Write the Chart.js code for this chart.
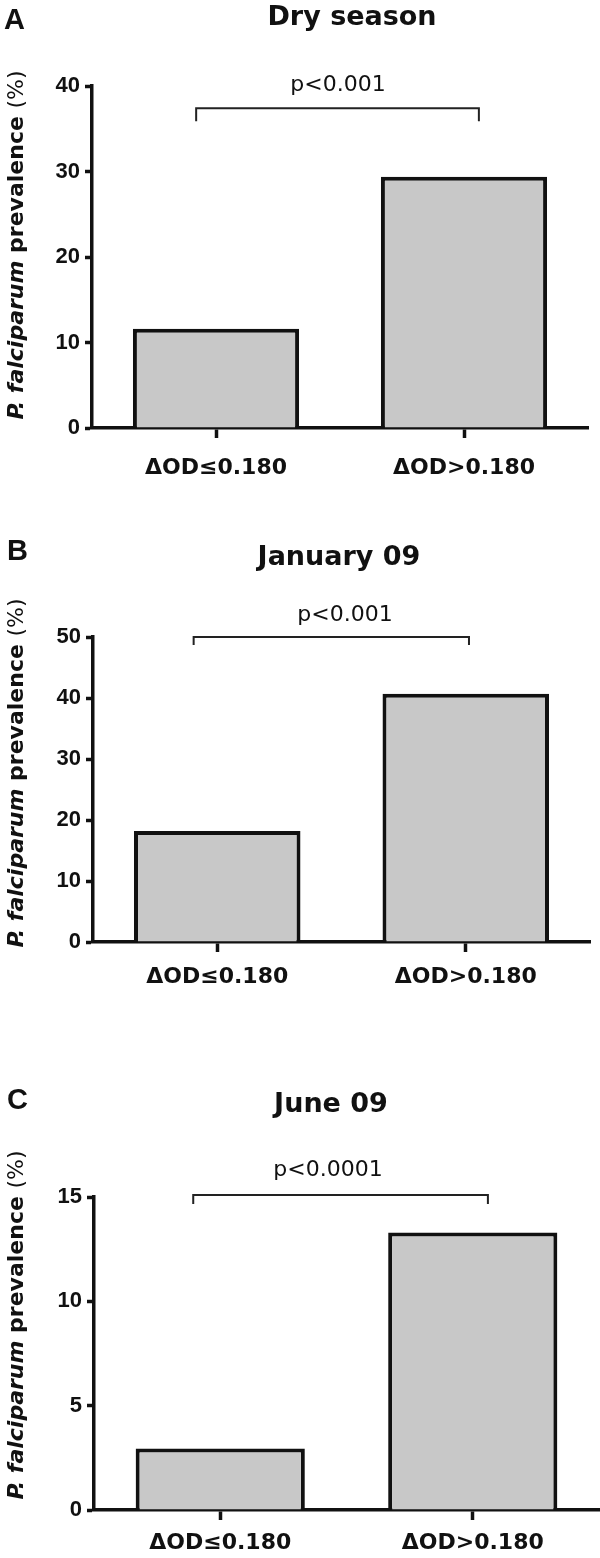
<!DOCTYPE html>
<html lang="en">
<head>
<meta charset="UTF-8">
<title>P. falciparum prevalence by ΔOD</title>
<script src="https://cdn.jsdelivr.net/npm/chart.js"></script>
<style>
    body { margin: 0; background: #fff; }
    #page { position: relative; width: 600px; height: 1558px; overflow: hidden; background: #fff; }
    .panel { position: absolute; left: 0; width: 600px; }
</style>
</head>
<body>
<div id="page">
    <div class="panel" id="wrapA" style="top:0;height:495px"><canvas id="chartA"></canvas></div>
    <div class="panel" id="wrapB" style="top:495px;height:510px"><canvas id="chartB"></canvas></div>
    <div class="panel" id="wrapC" style="top:1005px;height:553px"><canvas id="chartC"></canvas></div>
</div>

<script>
    // data
    const categories = ['ΔOD≤0.180', 'ΔOD>0.180'];
    const drySeason = [11.6, 29.4];
    const january09 = [18.2, 40.7];
    const june09 = [2.95, 13.3];

    const panelLetters = ['A', 'B', 'C'];
    const panelTitles = ['Dry season', 'January 09', 'June 09'];
    const pValues = ['p<0.001', 'p<0.001', 'p<0.0001'];
    const yMax = [40, 50, 15];
    const yStep = [10, 10, 5];
    const bracketLevel = [37.4, 50, 15.1];

    const series = [drySeason, january09, june09];

    // page layout of each panel (pixels)
    const layouts = [
        { id: 'chartA', top: 0, height: 495, left: 92, right: 588, areaTop: 86, areaBottom: 428,
          labelPad: 17, letterX: 4, letterY: 29, titleX: 352, titleY: 25, pX: 338, pY: 91,
          brFrom: -0.08, brTo: 1.06, brDrop: 13, yTitleY: 245 },
        { id: 'chartB', top: 495, height: 510, left: 93, right: 590, areaTop: 637, areaBottom: 942,
          labelPad: 12, letterX: 7, letterY: 560, titleX: 339, titleY: 565, pX: 345, pY: 621,
          brFrom: -0.095, brTo: 1.013, brDrop: 8, yTitleY: 773 },
        { id: 'chartC', top: 1005, height: 553, left: 94, right: 599, areaTop: 1197, areaBottom: 1510,
          labelPad: 10, letterX: 7, letterY: 1109, titleX: 331, titleY: 1112, pX: 328, pY: 1176,
          brFrom: -0.107, brTo: 1.06, brDrop: 9, yTitleY: 1325 }
    ];

    const INK = '#111';
    const FONT = '"DejaVu Sans", sans-serif';

    const panelAnnotations = {
        id: 'panelAnnotations',
        afterDraw(chart, args, o) {
            const ctx = chart.ctx;
            const xs = chart.scales.x, ys = chart.scales.y;
            const off = o.top;
            ctx.save();
            ctx.fillStyle = INK;
            ctx.textBaseline = 'alphabetic';

            // panel letter
            ctx.font = 'bold 29px "Liberation Sans", Arial, sans-serif';
            ctx.textAlign = 'left';
            ctx.fillText(o.letter, o.letterX, o.letterY - off);

            // title
            ctx.font = 'bold 27px ' + FONT;
            ctx.textAlign = 'center';
            ctx.fillText(o.title, o.titleX, o.titleY - off);

            // significance bracket
            const x1 = xs.getPixelForValue(o.brFrom);
            const x2 = xs.getPixelForValue(o.brTo);
            const yb = ys.getPixelForValue(o.brLevel);
            ctx.strokeStyle = '#222';
            ctx.lineWidth = 2;
            ctx.beginPath();
            ctx.moveTo(x1, yb + o.brDrop);
            ctx.lineTo(x1, yb);
            ctx.lineTo(x2, yb);
            ctx.lineTo(x2, yb + o.brDrop);
            ctx.stroke();

            ctx.font = '22px ' + FONT;
            ctx.fillText(o.pText, o.pX, o.pY - off);

            // y axis title, mixed styles
            const parts = [
                { t: 'P. falciparum ', f: 'italic bold 22px ' + FONT },
                { t: 'prevalence ', f: 'bold 22px ' + FONT },
                { t: '(%)', f: '22px ' + FONT }
            ];
            let total = 0;
            parts.forEach(p => { ctx.font = p.f; p.w = ctx.measureText(p.t).width; total += p.w; });
            ctx.translate(17, o.yTitleY - off);
            ctx.rotate(-Math.PI / 2);
            ctx.textAlign = 'left';
            ctx.textBaseline = 'middle';
            let cx = -total / 2;
            parts.forEach(p => { ctx.font = p.f; ctx.fillText(p.t, cx, 0); cx += p.w; });
            ctx.restore();
        }
    };

    function makePanel(i) {
        const L = layouts[i];
        const xHeight = 48;
        new Chart(document.getElementById(L.id), {
            type: 'bar',
            data: {
                labels: categories,
                datasets: [{
                    data: series[i],
                    backgroundColor: '#c8c8c8',
                    borderColor: INK,
                    borderWidth: 4,
                    categoryPercentage: 1,
                    barPercentage: 0.67
                }]
            },
            plugins: [panelAnnotations],
            options: {
                responsive: true,
                maintainAspectRatio: false,
                animation: false,
                layout: {
                    padding: {
                        top: L.areaTop - L.top,
                        left: 0,
                        right: 600 - L.right,
                        bottom: L.height - (L.areaBottom - L.top) - xHeight
                    }
                },
                plugins: {
                    legend: { display: false },
                    tooltip: { enabled: false },
                    panelAnnotations: {
                        top: L.top, letter: panelLetters[i], letterX: L.letterX, letterY: L.letterY,
                        title: panelTitles[i], titleX: L.titleX, titleY: L.titleY,
                        pText: pValues[i], pX: L.pX, pY: L.pY,
                        brFrom: L.brFrom, brTo: L.brTo, brLevel: bracketLevel[i], brDrop: L.brDrop,
                        yTitleY: L.yTitleY
                    }
                },
                scales: {
                    x: {
                        offset: true,
                        grid: { display: true, drawOnChartArea: false, drawTicks: true, tickLength: 10,
                                tickWidth: 3.5, tickColor: INK, offset: false },
                        border: { display: true, color: INK, width: 3.5 },
                        ticks: { color: INK, font: { family: 'DejaVu Sans', weight: 'bold', size: 22 },
                                 padding: L.labelPad, maxRotation: 0, autoSkip: false },
                        afterFit: s => { s.height = xHeight; }
                    },
                    y: {
                        min: 0,
                        max: yMax[i],
                        grid: { display: true, drawOnChartArea: false, drawTicks: true, tickLength: 7,
                                tickWidth: 3.5, tickColor: INK },
                        border: { display: true, color: INK, width: 3.5 },
                        ticks: { stepSize: yStep[i], color: INK, padding: 5,
                                 font: { family: 'Liberation Sans', weight: 'bold', size: 22 } },
                        afterFit: s => { s.width = L.left; }
                    }
                }
            }
        });
    }

    [0, 1, 2].forEach(makePanel);
</script>
</body>
</html>
